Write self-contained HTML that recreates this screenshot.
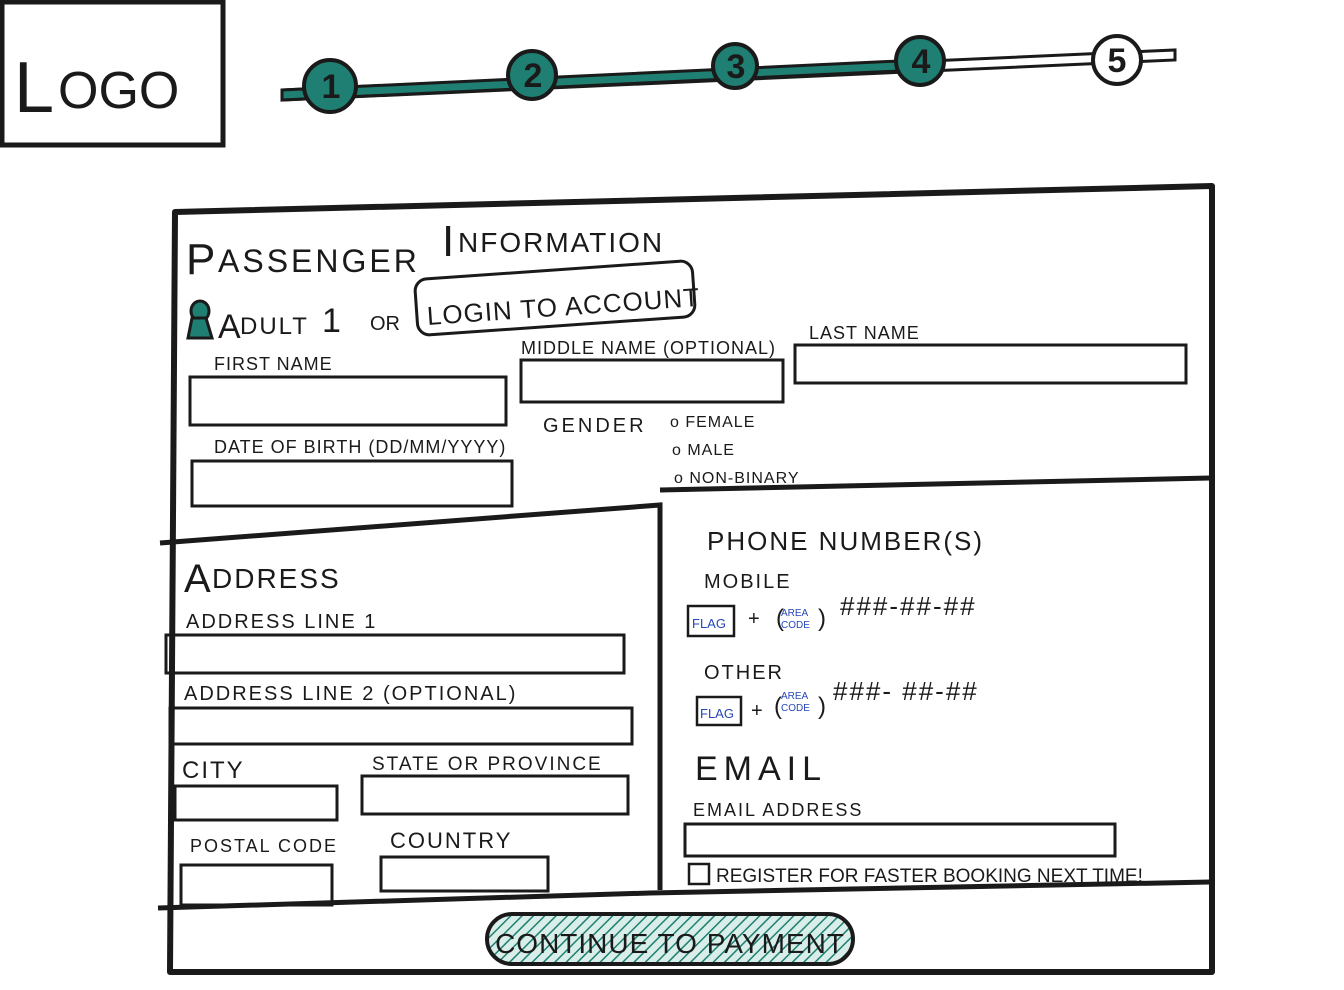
<!DOCTYPE html>
<html><head><style>
html,body{margin:0;padding:0;background:#fff;}
svg{display:block;}
text{font-family:"Liberation Sans",sans-serif;fill:#1a1a1a;}
</style></head><body>
<svg width="1344" height="990" viewBox="0 0 1344 990" xmlns="http://www.w3.org/2000/svg">
<defs>
<pattern id="h" width="8" height="8" patternUnits="userSpaceOnUse" patternTransform="rotate(45)">
<rect width="8" height="8" fill="#d9ede9"/><line x1="0" y1="0" x2="0" y2="8" stroke="#1e7f72" stroke-width="3"/>
</pattern>
</defs>
<!-- Logo -->
<rect x="2" y="2" width="221" height="143" fill="none" stroke="#1a1a1a" stroke-width="5"/>
<text x="14" y="112" font-size="72">L</text>
<text x="58" y="108" font-size="52">OGO</text>
<!-- progress -->
<path d="M282 90 L1175 50 L1175 60 L282 100 Z" fill="#fff" stroke="#1a1a1a" stroke-width="3"/>
<path d="M282 90 L920 60 L920 70 L282 100 Z" fill="#1e7f72" stroke="#1a1a1a" stroke-width="3"/>
<g stroke="#1a1a1a" stroke-width="4">
<circle cx="330" cy="86" r="26" fill="#1e7f72"/>
<circle cx="532" cy="75" r="24" fill="#1e7f72"/>
<circle cx="735" cy="66" r="22" fill="#1e7f72"/>
<circle cx="920" cy="61" r="24" fill="#1e7f72"/>
<circle cx="1117" cy="60" r="24" fill="#fff"/>
</g>
<g font-size="34" text-anchor="middle" font-weight="bold">
<text x="331" y="98">1</text><text x="533" y="87">2</text><text x="736" y="78">3</text><text x="921" y="73">4</text><text x="1117" y="72">5</text>
</g>
<!-- main box -->
<path d="M175 212 L1212 186 L1212 972 L170 972 Z" fill="none" stroke="#1a1a1a" stroke-width="6" stroke-linejoin="round"/>
<path d="M160 543 L660 505 L660 890" fill="none" stroke="#1a1a1a" stroke-width="5"/>
<path d="M660 490 L1210 478" fill="none" stroke="#1a1a1a" stroke-width="5"/>
<path d="M158 908 L650 893 L1210 882" fill="none" stroke="#1a1a1a" stroke-width="5"/>
<!-- title -->
<text x="186" y="274" font-size="44">P</text><text x="218" y="272" font-size="32" letter-spacing="3">ASSENGER</text>
<text x="442" y="256" font-size="44">I</text><text x="458" y="252" font-size="28" letter-spacing="2">NFORMATION</text>
<ellipse cx="200" cy="311" rx="9" ry="10" fill="#1e7f72" stroke="#1a1a1a" stroke-width="3"/>
<path d="M192 318 L188 338 L212 338 L206 318 Z" fill="#1e7f72" stroke="#1a1a1a" stroke-width="3"/>
<text x="218" y="338" font-size="34">A</text><text x="240" y="334" font-size="24" letter-spacing="2">DULT</text><text x="322" y="332" font-size="34">1</text>
<text x="370" y="330" font-size="20">OR</text>
<rect x="416" y="270" width="278" height="56" rx="12" fill="none" stroke="#1a1a1a" stroke-width="3" transform="rotate(-4 555 298)"/>
<text x="426" y="316" font-size="26" letter-spacing="1" transform="rotate(-4 555 298)">LOGIN TO ACCOUNT</text>
<g font-size="18" letter-spacing="1">
<text x="214" y="370">FIRST NAME</text>
<text x="521" y="354">MIDDLE NAME (OPTIONAL)</text>
<text x="809" y="339">LAST NAME</text>
<text x="214" y="453">DATE OF BIRTH (DD/MM/YYYY)</text>
<text x="543" y="432" font-size="20" letter-spacing="3">GENDER</text>
<text x="670" y="427" font-size="16">o FEMALE</text>
<text x="672" y="455" font-size="16">o MALE</text>
<text x="674" y="483" font-size="16">o NON-BINARY</text>
</g>
<g fill="none" stroke="#1a1a1a" stroke-width="3">
<rect x="190" y="377" width="316" height="48"/>
<rect x="521" y="360" width="262" height="42"/>
<rect x="795" y="345" width="391" height="38"/>
<rect x="192" y="461" width="320" height="45"/>
</g>
<!-- address -->
<text x="184" y="592" font-size="40">A</text><text x="212" y="588" font-size="28" letter-spacing="2">DDRESS</text>
<g font-size="20" letter-spacing="2">
<text x="186" y="628">ADDRESS LINE 1</text>
<text x="184" y="700">ADDRESS LINE 2 (OPTIONAL)</text>
<text x="182" y="778" font-size="24">CITY</text>
<text x="372" y="770" font-size="19">STATE OR PROVINCE</text>
<text x="190" y="852" font-size="18">POSTAL CODE</text>
<text x="390" y="848" font-size="22">COUNTRY</text>
</g>
<g fill="none" stroke="#1a1a1a" stroke-width="3">
<rect x="166" y="635" width="458" height="38"/>
<rect x="170" y="708" width="462" height="36"/>
<rect x="175" y="786" width="162" height="34"/>
<rect x="362" y="776" width="266" height="38"/>
<rect x="181" y="865" width="151" height="40"/>
<rect x="381" y="857" width="167" height="34"/>
</g>
<!-- phone -->
<g font-size="26" letter-spacing="2">
<text x="707" y="550">PHONE NUMBER(S)</text>
<text x="704" y="588" font-size="20">MOBILE</text>
<text x="704" y="679" font-size="20">OTHER</text>
<text x="695" y="780" font-size="34" letter-spacing="6">EMAIL</text>
<text x="693" y="816" font-size="18">EMAIL ADDRESS</text>
<text x="840" y="615">###-##-##</text>
<text x="833" y="700">###- ##-##</text>
</g>
<g fill="none" stroke="#1a1a1a" stroke-width="2.5">
<rect x="688" y="606" width="46" height="30"/>
<rect x="697" y="697" width="44" height="28"/>
<rect x="685" y="824" width="430" height="32" stroke-width="3"/>
<rect x="689" y="864" width="20" height="20"/>
</g>
<g font-size="13">
<text x="692" y="628" style="fill:#2546b8">FLAG</text>
<text x="700" y="718" style="fill:#2546b8">FLAG</text>
<text x="781" y="616" font-size="10" style="fill:#2546b8">AREA</text><text x="781" y="628" font-size="10" style="fill:#2546b8">CODE</text>
<text x="781" y="699" font-size="10" style="fill:#2546b8">AREA</text><text x="781" y="711" font-size="10" style="fill:#2546b8">CODE</text>
</g>
<text x="748" y="625" font-size="20">+</text><text x="776" y="626" font-size="24">(</text><text x="818" y="626" font-size="24">)</text>
<text x="751" y="717" font-size="20">+</text><text x="774" y="714" font-size="24">(</text><text x="818" y="714" font-size="24">)</text>
<text x="716" y="882" font-size="19">REGISTER FOR FASTER BOOKING NEXT TIME!</text>
<!-- button -->
<rect x="487" y="914" width="366" height="50" rx="25" fill="url(#h)" stroke="#1a1a1a" stroke-width="4"/>
<text x="670" y="953" font-size="28" text-anchor="middle" letter-spacing="1">CONTINUE TO PAYMENT</text>
</svg>
</body></html>
